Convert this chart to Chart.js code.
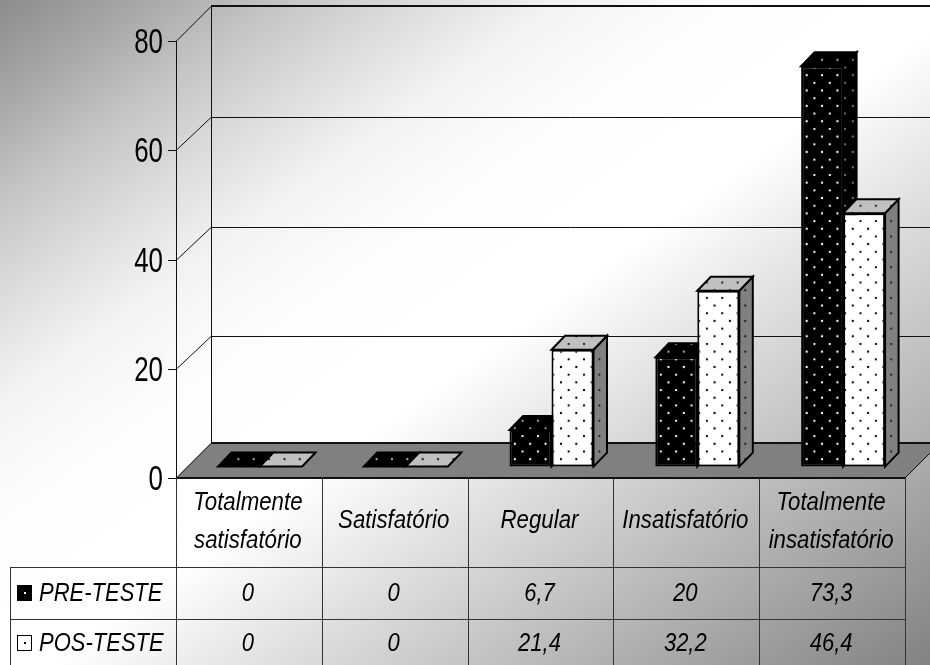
<!DOCTYPE html>
<html>
<head>
<meta charset="utf-8">
<style>
  html, body { margin: 0; padding: 0; background: #fff; overflow: hidden; }
  canvas { display: block; }
</style>
<script src="https://cdn.jsdelivr.net/npm/chart.js@4"></script>
</head>
<body>
<canvas id="myChart" width="930" height="665"></canvas>
<script>
const categories = [['Totalmente', 'satisfatório'], ['Satisfatório'], ['Regular'], ['Insatisfatório'], ['Totalmente', 'insatisfatório']];
const preTeste = [0, 0, 6.7, 20, 73.3];
const posTeste = [0, 0, 21.4, 32.2, 46.4];
const yTicks = [0, 20, 40, 60, 80];

// 3d look: offsets of the back wall and of the bars
const wallDepth = 35;
const barShift = { x: 11, y: -11.4 };
const barDepth = { x: 13.5, y: -14 };
const tableLeft = 10;
const rowLines = [567, 619];

// diagonal page shading, position and grey level
const shadeStops = [[0, '#8c8c8c'], [0.08, '#a8a8a8'], [0.15, '#c4c4c4'], [0.225, '#dcdcdc'], [0.3, '#f2f2f2'],
  [0.375, '#fbfbfb'], [0.425, '#fefefe'], [0.525, '#ffffff'], [1, '#828282']];

const ctx = document.getElementById('myChart');

function dotted(bg, dot) {
  const tile = document.createElement('canvas');
  tile.width = tile.height = 16;
  const t = tile.getContext('2d');
  t.fillStyle = bg;
  t.fillRect(0, 0, 16, 16);
  t.fillStyle = dot;
  [[1, 1], [9, 9]].forEach(p => {
    t.beginPath();
    t.arc(p[0], p[1], 1.2, 0, Math.PI * 2);
    t.fill();
  });
  const pattern = ctx.getContext('2d').createPattern(tile, 'repeat');
  pattern.setTransform(new DOMMatrix().translate(3.7, 1.1).scale(0.96));
  return pattern;
}

const fills = {
  pre: { front: dotted('#000', '#fff'), side: dotted('#000', '#777'), top: dotted('#000', '#aaa') },
  pos: { front: dotted('#fff', '#000'), side: dotted('#808080', '#222'), top: dotted('#c0c0c0', '#222') }
};

// squeezed text, the whole chart is narrower than its fonts
function label(c, text, x, y, font, squeeze, align) {
  c.save();
  c.translate(x, y);
  c.scale(squeeze, 1);
  c.font = font;
  c.fillStyle = '#000';
  c.textAlign = align || 'center';
  c.textBaseline = 'middle';
  c.fillText(text, 0, 0);
  c.restore();
}

function face(c, pts, fill) {
  c.beginPath();
  pts.forEach((p, i) => i ? c.lineTo(p[0], p[1]) : c.moveTo(p[0], p[1]));
  c.closePath();
  c.fillStyle = fill;
  c.fill();
  c.lineWidth = 2;
  c.lineJoin = 'miter';
  c.strokeStyle = '#000';
  c.stroke();
}

const scene = {
  id: 'scene',
  beforeDraw(chart) {
    const c = chart.ctx;
    const g = c.createLinearGradient(150, -108, 780, 772);
    shadeStops.forEach(s => g.addColorStop(s[0], s[1]));
    c.fillStyle = g;
    c.fillRect(0, 0, chart.width, chart.height);
  },
  beforeDatasetsDraw(chart) {
    const c = chart.ctx;
    const a = chart.chartArea;
    const y = chart.scales.y;
    const d = wallDepth;
    const floorY = y.getPixelForValue(0);

    // floor
    c.beginPath();
    c.moveTo(a.left, floorY);
    c.lineTo(a.left + d, floorY - d);
    c.lineTo(a.right + d, floorY - d);
    c.lineTo(a.right, floorY);
    c.closePath();
    c.fillStyle = '#808080';
    c.fill();

    // walls and grid
    c.strokeStyle = '#111';
    c.lineWidth = 1;
    yTicks.forEach(v => {
      const py = Math.round(y.getPixelForValue(v)) + 0.5;
      const rise = (v === 0 || v === 80) ? d : d - 2;
      c.beginPath();
      c.moveTo(a.left - 8, py);
      c.lineTo(a.left, py);
      c.lineTo(a.left + d, py - rise);
      c.lineTo(chart.width, py - rise);
      c.stroke();
      label(c, String(v), a.left - 13, py + 2, '35px "Liberation Sans"', 0.74, 'right');
    });
    c.beginPath();
    c.moveTo(a.left + 0.5, a.top);
    c.lineTo(a.left + 0.5, floorY);
    c.moveTo(a.left + d + 0.5, a.top - d);
    c.lineTo(a.left + d + 0.5, floorY - d);
    c.moveTo(a.right, floorY);
    c.lineTo(a.right + d, floorY - d);
    c.stroke();
    c.lineWidth = 2;
    c.beginPath();
    c.moveTo(a.left + d, a.top - d);
    c.lineTo(chart.width, a.top - d);
    c.moveTo(a.left + d, floorY - d);
    c.lineTo(chart.width, floorY - d);
    c.moveTo(a.left, floorY);
    c.lineTo(a.right, floorY);
    c.stroke();
  },
  // bars are painted together below, the pre-test ones first
  beforeDatasetDraw() {
    return false;
  },
  afterDatasetsDraw(chart) {
    const c = chart.ctx;
    [0, 1].forEach(index => {
      const meta = chart.getDatasetMeta(index);
      const look = index === 0 ? fills.pre : fills.pos;
      c.save();
      c.translate(barShift.x, barShift.y);
      const dx = barDepth.x;
      const dy = barDepth.y;
      meta.data.forEach(bar => {
        const l = bar.x - bar.width / 2;
        const r = bar.x + bar.width / 2;
        face(c, [[r, bar.base], [r + dx, bar.base + dy], [r + dx, bar.y + dy], [r, bar.y]], look.side);
        face(c, [[l, bar.y], [l + dx, bar.y + dy], [r + dx, bar.y + dy], [r, bar.y]], look.top);
      });
      meta.controller.draw();
      c.restore();
    });
  },
  afterDraw(chart) {
    const c = chart.ctx;
    const a = chart.chartArea;
    const x = chart.scales.x;
    const bottom = chart.height;
    const textFont = 'italic 25px "Liberation Sans"';
    const cols = categories.length;
    const step = (a.right - a.left) / cols;

    // data table lines
    c.strokeStyle = '#333';
    c.lineWidth = 1;
    c.beginPath();
    for (let i = 0; i <= cols; i++) {
      const px = Math.round(a.left + step * i) + 0.5;
      c.moveTo(px, a.bottom);
      c.lineTo(px, bottom);
    }
    rowLines.forEach(py => {
      c.moveTo(tableLeft, py + 0.5);
      c.lineTo(a.right, py + 0.5);
    });
    c.moveTo(tableLeft + 0.5, rowLines[0]);
    c.lineTo(tableLeft + 0.5, bottom);
    c.stroke();

    // category row
    chart.data.labels.forEach((lines, i) => {
      const cx = x.getPixelForValue(i) - 1;
      if (lines.length === 2) {
        label(c, lines[0], cx, 503, textFont, 0.89);
        label(c, lines[1], cx, 541, textFont, 0.89);
      } else {
        label(c, lines[0], cx, 521, textFont, 0.89);
      }
    });

    // value rows with their legend keys
    const rowY = [594, 644];
    const keyFill = ['#000', '#fff'];
    chart.data.datasets.forEach((ds, row) => {
      c.fillStyle = keyFill[row];
      c.fillRect(18, rowY[row] - 8, 14, 15);
      c.strokeStyle = '#000';
      c.lineWidth = 1;
      c.strokeRect(17.5, rowY[row] - 8.5, 14, 15);
      c.fillStyle = row ? '#000' : '#fff';
      c.fillRect(24, rowY[row] - 2, 2, 2);
      label(c, ds.label, 39, rowY[row], textFont, 0.88, 'left');
      ds.data.forEach((v, i) => {
        label(c, String(v).replace('.', ','), x.getPixelForValue(i) - 1, rowY[row], textFont, 0.88);
      });
    });
  }
};

new Chart(ctx, {
  type: 'bar',
  data: {
    labels: categories,
    datasets: [{
      label: 'PRE-TESTE',
      data: preTeste,
      backgroundColor: fills.pre.front,
      borderColor: '#000',
      borderWidth: 2,
      borderSkipped: false
    },
    {
      label: 'POS-TESTE',
      data: posTeste,
      backgroundColor: fills.pos.front,
      borderColor: '#000',
      borderWidth: 2,
      borderSkipped: false
    }]
  },
  plugins: [scene],
  options: {
    responsive: false,
    animation: false,
    layout: { padding: { top: 41, right: 25, left: 0, bottom: 0 } },
    datasets: { bar: { categoryPercentage: 0.576, barPercentage: 1 } },
    plugins: {
      legend: { display: false },
      tooltip: { enabled: false }
    },
    scales: {
      x: {
        grid: { display: false },
        border: { display: false },
        ticks: { display: false },
        afterFit: s => { s.height = 187; }
      },
      y: {
        min: 0,
        max: 80,
        afterBuildTicks: s => { s.ticks = yTicks.map(v => ({ value: v })); },
        grid: { display: false },
        border: { display: false },
        ticks: { display: false },
        afterFit: s => { s.width = 176; }
      }
    }
  }
});
</script>
</body>
</html>
